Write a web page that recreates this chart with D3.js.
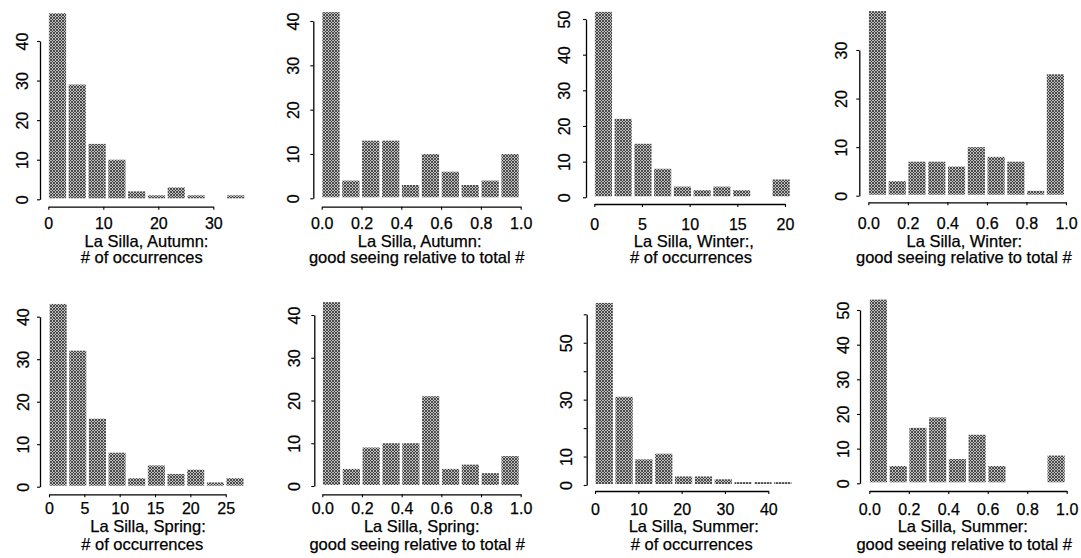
<!DOCTYPE html>
<html>
<head>
<meta charset="utf-8">
<script src="https://cdn.jsdelivr.net/npm/d3@7/dist/d3.min.js"></script>
<style>
  html, body { margin: 0; padding: 0; background: #fff; }
  svg { display: block; }
  text { font-family: "Liberation Sans", Arial, Helvetica, sans-serif; fill: #000; stroke: #000; stroke-width: 0.25px; }
</style>
</head>
<body>
<svg id="chart" width="1081" height="558"></svg>
<script>
// ---------------- DATA ----------------
// Histogram counts (10 bins each)
const autumnOccurrences = [47, 29, 14, 10, 2, 1, 3, 1, 0, 1];
const autumnGoodRatio   = [42, 4, 13, 13, 3, 10, 6, 3, 4, 10];
const winterOccurrences = [52, 22, 15, 8, 3, 2, 3, 2, 0, 5];
const winterGoodRatio   = [38, 3, 7, 7, 6, 10, 8, 7, 1, 25];
const springOccurrences = [43, 32, 16, 8, 2, 5, 3, 4, 1, 2];
const springGoodRatio   = [43, 4, 9, 10, 10, 21, 4, 5, 3, 7];
const summerOccurrences = [64, 31, 9, 11, 3, 3, 2, 1, 1, 1];
const summerGoodRatio   = [53, 5, 16, 19, 7, 14, 5, 0, 0, 8];

// Upper edge of the histogram range (bins are range/10 wide)
const histRangeMax = [36, 1, 20.7, 1, 27.8, 1, 45.8, 1];

// Tick values / labels
const xTicksAutumnOcc = [0, 10, 20, 30];
const xTicksWinterOcc = [0, 5, 10, 15, 20];
const xTicksSpringOcc = [0, 5, 10, 15, 20, 25];
const xTicksSummerOcc = [0, 10, 20, 30, 40];
const xTicksRatio     = [0, 0.2, 0.4, 0.6, 0.8, 1.0];
const xTickLabelsRatio = ["0.0", "0.2", "0.4", "0.6", "0.8", "1.0"];

const yTicks0to40 = [0, 10, 20, 30, 40];
const yTicks0to50 = [0, 10, 20, 30, 40, 50];
const yTicks0to30 = [0, 10, 20, 30];
const yTicks0to60 = [0, 10, 20, 30, 40, 50, 60];
const yTickLabelsSummerOcc = ["0", "10", "", "30", "", "50", ""];

const titleLine1 = [
  "La Silla, Autumn:", "La Silla, Autumn:", "La Silla, Winter:,", "La Silla, Winter:",
  "La Silla, Spring:", "La Silla, Spring:", "La Silla, Summer:", "La Silla, Summer:"
];
const titleOcc = "# of occurrences";
const titleRatio = "good seeing relative to total #";

// ---------------- LAYOUT (pixels) ----------------
const rowText = [
  { tb: 229.5, t1: 246.5, t2: 263 },
  { tb: 514.5, t1: 532,   t2: 549.5 }
];
const layouts = [
  { row: 0, xr: [30, 48.3, 213.3],  yr: [40, 199.3, 41],    ax: 40,    ay: 206.7, yo: 11.7, c1: 146.5, c2: 141.7 },
  { row: 0, xr: [1, 321.7, 520.7],  yr: [40, 198.3, 21],    ax: 313.3, ay: 206.7, yo: 14,   c1: 419.7, c2: 416.7 },
  { row: 0, xr: [20, 594.3, 785],   yr: [50, 197.3, 19],    ax: 586,   ay: 204,   yo: 16,   c1: 693.8, c2: 691 },
  { row: 0, xr: [1, 868.3, 1066],   yr: [30, 195.7, 50],    ax: 859.3, ay: 202.3, yo: 12.6, c1: 964.3, c2: 963.8 },
  { row: 1, xr: [25, 49, 225.7],    yr: [40, 486.7, 316.7], ax: 40,    ay: 494.3, yo: 10.7, c1: 148,   c2: 142.2 },
  { row: 1, xr: [1, 322.3, 520.7],  yr: [40, 486, 315],     ax: 314.3, ay: 494.3, yo: 14.3, c1: 421.7, c2: 417.2 },
  { row: 1, xr: [40, 595, 768.3],   yr: [60, 485, 314.3],   ax: 586.7, ay: 491,   yo: 15,   c1: 693.8, c2: 691.7 },
  { row: 1, xr: [1, 869.3, 1066.7], yr: [50, 483.3, 310],   ax: 860,   ay: 491,   yo: 10.7, c1: 962.8, c2: 964.2 }
];

const panels = [
  { counts: autumnOccurrences, xTicks: xTicksAutumnOcc, xLabels: xTicksAutumnOcc.map(String), yTicks: yTicks0to40, yLabels: yTicks0to40.map(String), title2: titleOcc },
  { counts: autumnGoodRatio,   xTicks: xTicksRatio,     xLabels: xTickLabelsRatio,            yTicks: yTicks0to40, yLabels: yTicks0to40.map(String), title2: titleRatio },
  { counts: winterOccurrences, xTicks: xTicksWinterOcc, xLabels: xTicksWinterOcc.map(String), yTicks: yTicks0to50, yLabels: yTicks0to50.map(String), title2: titleOcc },
  { counts: winterGoodRatio,   xTicks: xTicksRatio,     xLabels: xTickLabelsRatio,            yTicks: yTicks0to30, yLabels: yTicks0to30.map(String), title2: titleRatio },
  { counts: springOccurrences, xTicks: xTicksSpringOcc, xLabels: xTicksSpringOcc.map(String), yTicks: yTicks0to40, yLabels: yTicks0to40.map(String), title2: titleOcc },
  { counts: springGoodRatio,   xTicks: xTicksRatio,     xLabels: xTickLabelsRatio,            yTicks: yTicks0to40, yLabels: yTicks0to40.map(String), title2: titleRatio },
  { counts: summerOccurrences, xTicks: xTicksSummerOcc, xLabels: xTicksSummerOcc.map(String), yTicks: yTicks0to60, yLabels: yTickLabelsSummerOcc,  title2: titleOcc },
  { counts: summerGoodRatio,   xTicks: xTicksRatio,     xLabels: xTickLabelsRatio,            yTicks: yTicks0to50, yLabels: yTicks0to50.map(String), title2: titleRatio }
];

// ---------------- DRAW ----------------
const svg = d3.select("#chart");

// hatch pattern imitating the dithered grey fill
const defs = svg.append("defs");
const pat = defs.append("pattern")
  .attr("id", "hatch").attr("patternUnits", "userSpaceOnUse")
  .attr("width", 3).attr("height", 3);
pat.append("rect").attr("width", 3).attr("height", 3).attr("fill", "#c0c0c0");
pat.append("path").attr("d", "M0,0L3,3M3,0L0,3M-1,2L1,4M2,-1L4,1")
  .attr("stroke", "#2e2e2e").attr("stroke-width", 0.8);

panels.forEach((p, i) => {
  const L = layouts[i];
  const R = rowText[L.row];
  const g = svg.append("g");
  const x = d3.scaleLinear().domain([0, L.xr[0]]).range([L.xr[1], L.xr[2]]);
  const y = d3.scaleLinear().domain([0, L.yr[0]]).range([L.yr[1], L.yr[2]]);
  const bw = histRangeMax[i] / p.counts.length;
  const bins = p.counts.map((c, k) => ({ x0: k * bw, x1: (k + 1) * bw, c }));

  // bars
  g.selectAll("rect.bar").data(bins.filter(b => b.c > 0)).join("rect")
    .attr("class", "bar")
    .attr("x", b => x(b.x0) + 0.6)
    .attr("width", b => Math.max(0, x(b.x1) - x(b.x0) - 2.6))
    .attr("y", b => y(b.c))
    .attr("height", b => y(0) - y(b.c) - 1)
    .attr("fill", "url(#hatch)");

  // x axis (line from first to last tick, R style)
  const xt = p.xTicks;
  const xa = x.copy().domain([xt[0], xt[xt.length - 1]]).range([x(xt[0]), x(xt[xt.length - 1])]);
  const gx = g.append("g").attr("transform", `translate(0,${L.ay})`)
    .call(d3.axisBottom(xa).tickValues(xt).tickSize(3).tickSizeOuter(0)
      .tickFormat((d, k) => p.xLabels[k]));
  gx.attr("font-family", null);
  gx.select(".domain").attr("stroke", "#000").attr("stroke-width", 1.3);
  gx.selectAll(".tick line").attr("stroke", "#000").attr("stroke-width", 1.1);
  gx.selectAll(".tick text")
    .attr("y", R.tb - L.ay).attr("dy", 0)
    .attr("font-size", 16).attr("fill", "#000");

  // y axis
  const yt = p.yTicks;
  const ya = y.copy().domain([yt[0], yt[yt.length - 1]]).range([y(yt[0]), y(yt[yt.length - 1])]);
  const gy = g.append("g").attr("transform", `translate(${L.ax},0)`)
    .call(d3.axisLeft(ya).tickValues(yt).tickSize(3).tickSizeOuter(0)
      .tickFormat((d, k) => p.yLabels[k]));
  gy.attr("font-family", null);
  gy.select(".domain").attr("stroke", "#000").attr("stroke-width", 1.3);
  gy.selectAll(".tick line").attr("stroke", "#000").attr("stroke-width", 1.1);
  gy.selectAll(".tick text")
    .attr("x", null).attr("dy", 0)
    .attr("text-anchor", "middle")
    .attr("transform", `translate(${-L.yo},0) rotate(-90)`)
    .attr("font-size", 16).attr("fill", "#000");

  // titles
  g.append("text").attr("x", L.c1).attr("y", R.t1).attr("text-anchor", "middle")
    .attr("font-size", 16.5).text(titleLine1[i]);
  g.append("text").attr("x", L.c2).attr("y", R.t2).attr("text-anchor", "middle")
    .attr("font-size", 16.5).text(p.title2);
});
</script>
</body>
</html>
